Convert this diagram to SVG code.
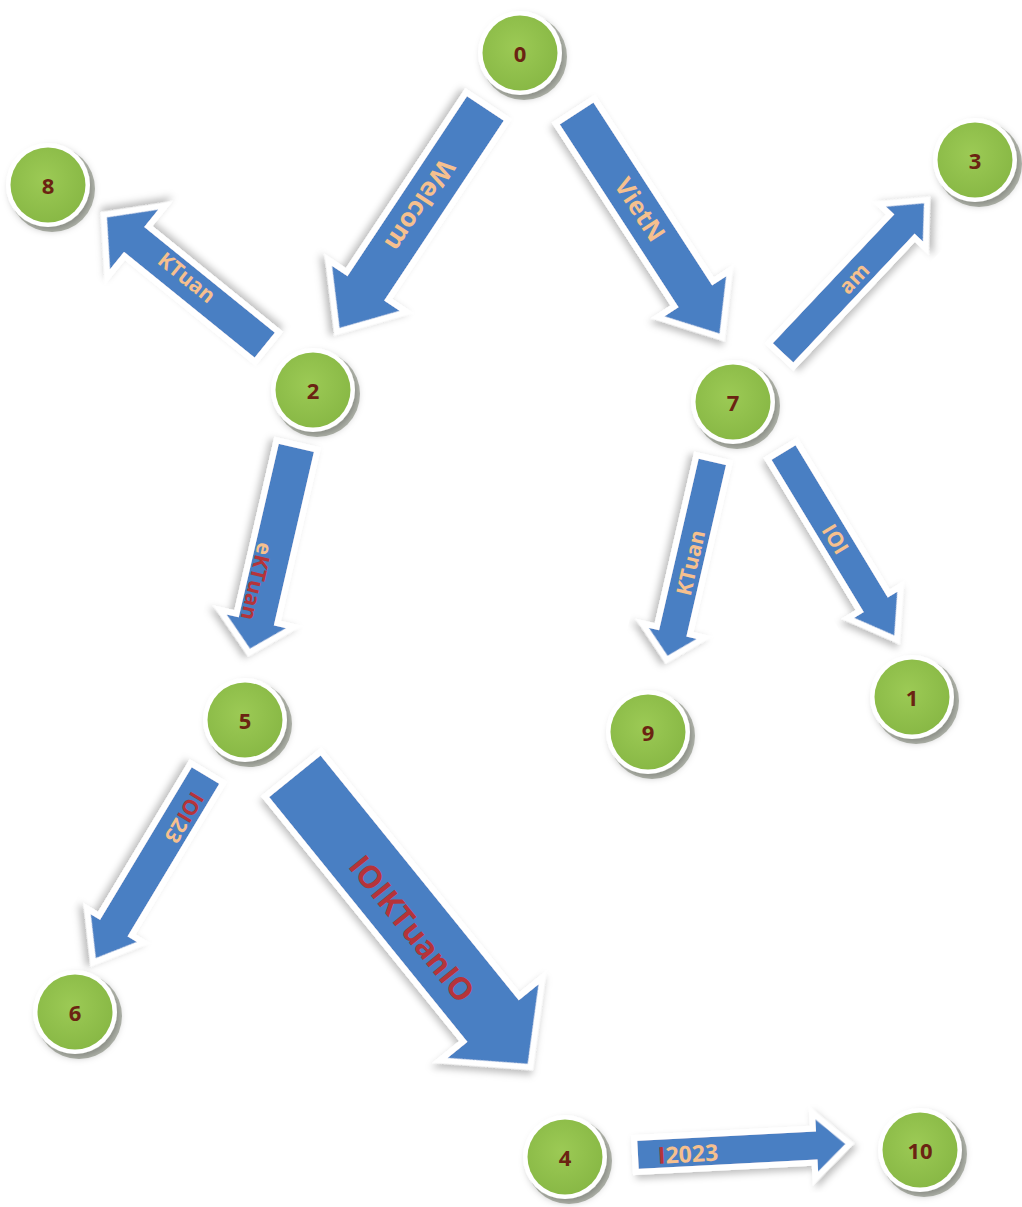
<svg xmlns="http://www.w3.org/2000/svg" width="1022" height="1207" viewBox="0 0 1022 1207">
<defs>
<filter id="sh" x="-20%" y="-20%" width="140%" height="140%">
<feDropShadow dx="3" dy="4" stdDeviation="3.5" flood-color="#000" flood-opacity="0.25"/>
</filter>
<radialGradient id="gr" cx="0.45" cy="0.42" r="0.6">
<stop offset="0" stop-color="#9cca55"/>
<stop offset="1" stop-color="#88b845"/>
</radialGradient>
<style>
.arr{fill:#4a7fc3;stroke:#fff;stroke-width:6;stroke-linejoin:miter;filter:url(#sh)}
.ring{fill:#fff;filter:url(#sh)}
.crs{fill:#b9bdb3}
.fill{fill:url(#gr)}
.nl{font-family:"Open Sans","Liberation Sans",sans-serif;font-weight:bold;font-size:22px;fill:#6b2312;text-anchor:middle;dominant-baseline:central}
.lb{font-family:"Open Sans","Liberation Sans",sans-serif;font-weight:bold;text-anchor:middle;dominant-baseline:central}
.pe{fill:#f6c08e}
.rd{fill:#b5343a}
</style>
</defs>
<rect width="1022" height="1207" fill="#fff"/>
<g id="connectors">
<g id="e0-2" transform="translate(487,106) rotate(123.6)">
<polygon class="arr" points="0,-25 216,-25 216,-47 271,0 216,47 216,25 0,25"/>
<text class="lb pe" font-size="26" x="120" y="0">Welcom</text>
</g>
<g id="e0-7" transform="translate(575,111) rotate(57)">
<polygon class="arr" points="0,-23 218,-23 218,-43 270,0 218,43 218,23 0,23"/>
<text class="lb pe" font-size="25" x="118" y="-2">VietN</text>
</g>
<g id="e2-8" transform="translate(267,347) rotate(-141)">
<polygon class="arr" points="0,-19 168,-19 168,-46 210,0 168,46 168,19 0,19"/>
<text class="lb pe" font-size="21" x="106" y="4" transform="rotate(180 106 4)">KTuan</text>
</g>
<g id="e2-5" transform="translate(297,445) rotate(103)">
<polygon class="arr" points="0,-21 178,-21 178,-38 213,0 178,38 178,21 0,21"/>
<text class="lb" font-size="21" x="142" y="8"><tspan class="pe">e</tspan><tspan class="rd">KTuan</tspan></text>
</g>
<g id="e5-6" transform="translate(207,773) rotate(121)">
<polygon class="arr" points="0,-19 178,-19 178,-33 221,0 178,33 178,19 0,19"/>
<text class="lb" font-size="21" x="50" y="-4"><tspan class="rd">IOI</tspan><tspan class="pe">23</tspan></text>
</g>
<g id="e5-4" transform="translate(293,774) rotate(51)">
<polygon class="arr" points="0,-36 315,-36 315,-66 377,0 315,66 315,36 0,36"/>
<text class="lb rd" font-size="31" x="195" y="4">IOIKTuanIO</text>
</g>
<g id="e4-10" transform="translate(635,1155) rotate(-3)">
<polygon class="arr" points="0,-17 179,-17 179,-33 215,0 179,33 179,17 0,17"/>
<text class="lb" font-size="23" x="53" y="1"><tspan class="rd">I</tspan><tspan class="pe">2023</tspan></text>
</g>
<g id="e7-3" transform="translate(781,355) rotate(-46.7)">
<polygon class="arr" points="0,-17 177,-17 177,-32 213,0 177,32 177,17 0,17"/>
<text class="lb pe" font-size="21" x="106" y="0">am</text>
</g>
<g id="e7-9" transform="translate(713,459) rotate(103)">
<polygon class="arr" points="0,-17 176,-17 176,-32 206,0 176,32 176,17 0,17"/>
<text class="lb pe" font-size="21" x="106" y="-1" transform="rotate(180 106 -1)">KTuan</text>
</g>
<g id="e7-1" transform="translate(782,450) rotate(58.8)">
<polygon class="arr" points="0,-17 178,-17 178,-31 222,0 178,31 178,17 0,17"/>
<text class="lb pe" font-size="21" x="104" y="0">IOI</text>
</g>
</g>
<g id="n0" transform="translate(520,53)"><circle class="crs" cx="4" cy="4" r="43"/><circle class="ring" r="42"/><circle class="fill" r="37.5"/><text class="nl">0</text></g>
<g id="n8" transform="translate(48,185)"><circle class="crs" cx="4" cy="4" r="43"/><circle class="ring" r="42"/><circle class="fill" r="37.5"/><text class="nl">8</text></g>
<g id="n3" transform="translate(975,160)"><circle class="crs" cx="4" cy="4" r="43"/><circle class="ring" r="42"/><circle class="fill" r="37.5"/><text class="nl">3</text></g>
<g id="n2" transform="translate(313,390)"><circle class="crs" cx="4" cy="4" r="43"/><circle class="ring" r="42"/><circle class="fill" r="37.5"/><text class="nl">2</text></g>
<g id="n7" transform="translate(733,402)"><circle class="crs" cx="4" cy="4" r="43"/><circle class="ring" r="42"/><circle class="fill" r="37.5"/><text class="nl">7</text></g>
<g id="n5" transform="translate(245,720)"><circle class="crs" cx="4" cy="4" r="43"/><circle class="ring" r="42"/><circle class="fill" r="37.5"/><text class="nl">5</text></g>
<g id="n9" transform="translate(648,732)"><circle class="crs" cx="4" cy="4" r="43"/><circle class="ring" r="42"/><circle class="fill" r="37.5"/><text class="nl">9</text></g>
<g id="n1" transform="translate(912,697)"><circle class="crs" cx="4" cy="4" r="43"/><circle class="ring" r="42"/><circle class="fill" r="37.5"/><text class="nl">1</text></g>
<g id="n6" transform="translate(75,1012)"><circle class="crs" cx="4" cy="4" r="43"/><circle class="ring" r="42"/><circle class="fill" r="37.5"/><text class="nl">6</text></g>
<g id="n4" transform="translate(565,1157)"><circle class="crs" cx="4" cy="4" r="43"/><circle class="ring" r="42"/><circle class="fill" r="37.5"/><text class="nl">4</text></g>
<g id="n10" transform="translate(920,1150)"><circle class="crs" cx="4" cy="4" r="43"/><circle class="ring" r="42"/><circle class="fill" r="37.5"/><text class="nl">10</text></g>
</svg>
